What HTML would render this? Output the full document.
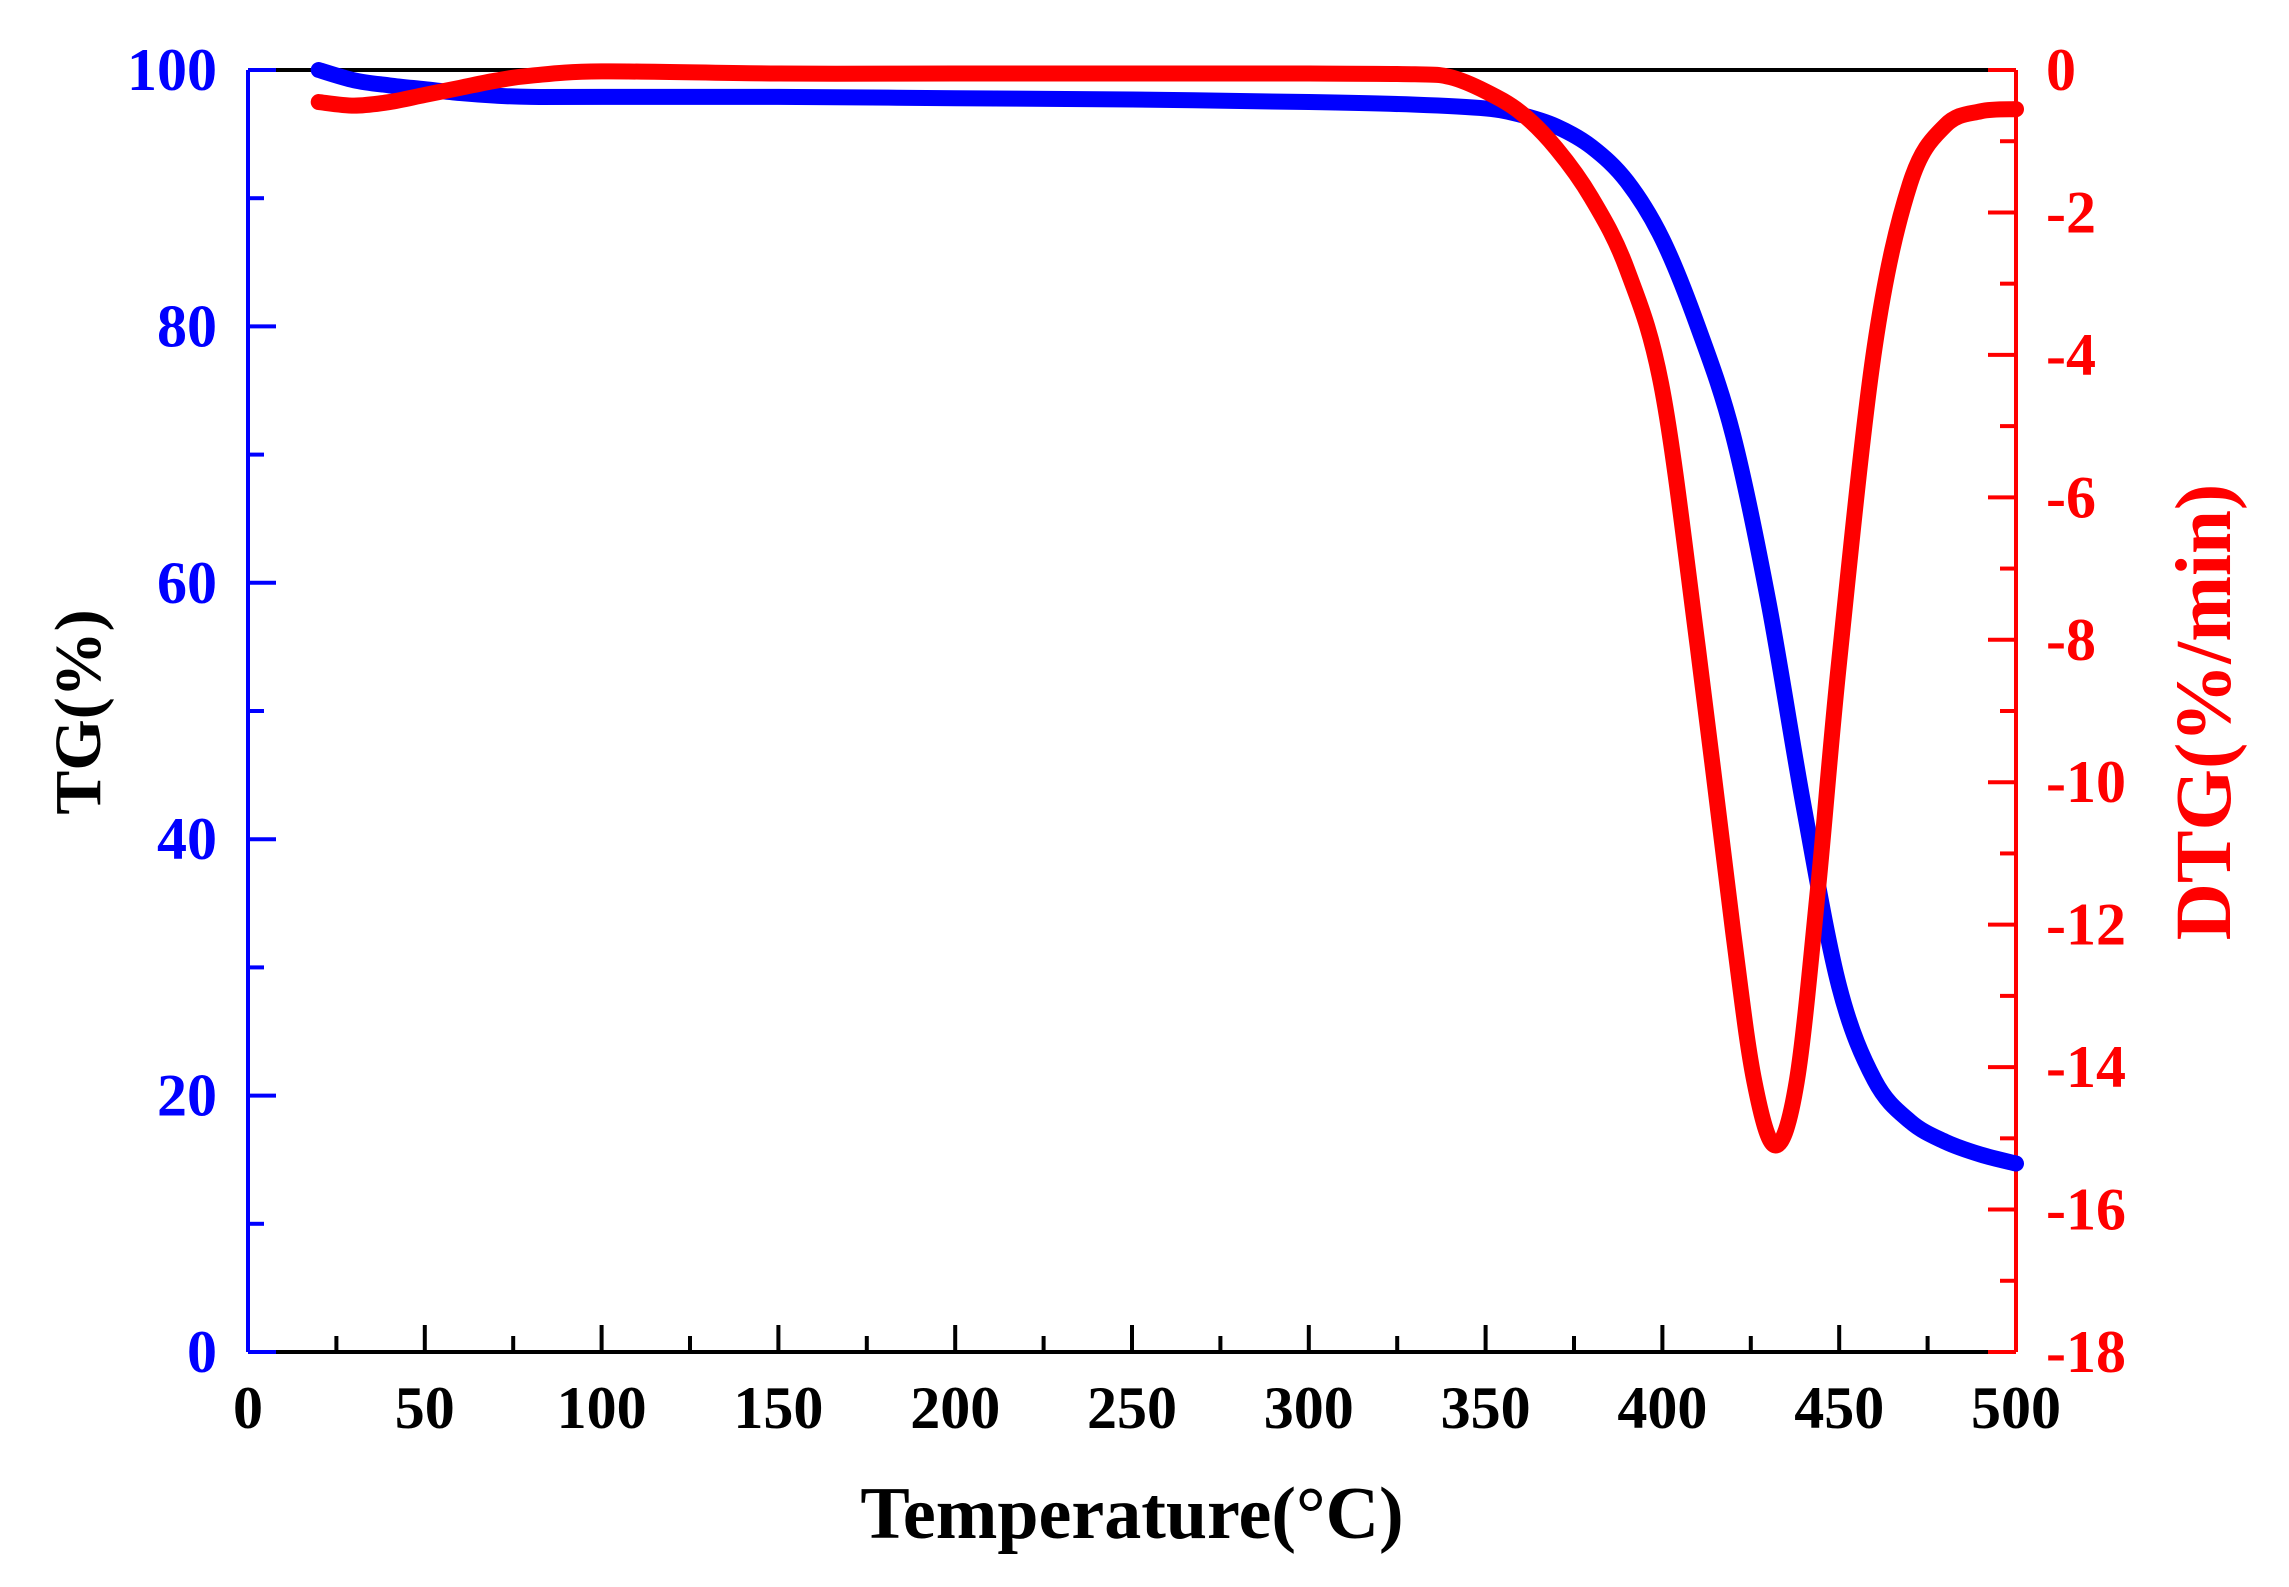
<!DOCTYPE html>
<html><head><meta charset="utf-8"><style>
body{margin:0;background:#fff;}
svg{display:block;font-family:"Liberation Serif",serif;font-weight:bold;}
</style></head><body>
<svg id="chart" width="2289" height="1587" viewBox="0 0 2289 1587" xmlns="http://www.w3.org/2000/svg"></svg>
<script>
const temps=[20,30,40,50,60,70,80,100,150,200,250,300,330,350,360,370,380,390,400,410,420,430,440,450,460,470,480,490,500];
const tgValues=[100,99.2,98.8,98.5,98.2,98,97.9,97.9,97.9,97.8,97.7,97.5,97.3,97,96.5,95.6,94.0,91.3,86.8,80,71.5,58.5,42.5,28.5,21.2,18,16.4,15.4,14.7];
const dtgTemps=[20,30,40,50,60,70,80,100,150,200,250,300,330,340,350,360,370,380,390,400,410,420,426,432,438,444,450,460,470,480,490,500];
const dtgValues=[-0.45,-0.5,-0.45,-0.35,-0.25,-0.15,-0.08,-0.02,-0.05,-0.05,-0.05,-0.05,-0.06,-0.1,-0.3,-0.6,-1.1,-1.8,-2.8,-4.5,-8.1,-12.1,-14.2,-15.1,-14.2,-11.5,-8.3,-3.9,-1.6,-0.78,-0.58,-0.55];
const xTicks=[0,50,100,150,200,250,300,350,400,450,500];
const tgTicks=[0,20,40,60,80,100];
const dtgTicks=[0,-2,-4,-6,-8,-10,-12,-14,-16,-18];

const L=248,R=2016,T=70,B=1352;
const sx=v=>L+(v/500)*(R-L);
const syL=v=>B-(v/100)*(B-T);
const syR=v=>T+(-v/18)*(B-T);
const svg=document.getElementById('chart');
const NS='http://www.w3.org/2000/svg';
function mk(tag,attrs,text){const e=document.createElementNS(NS,tag);for(const k in attrs)e.setAttribute(k,attrs[k]);if(text!==undefined)e.textContent=text;svg.appendChild(e);return e;}

let e=mk('line',{x1:L,y1:T,x2:R,y2:T,stroke:'#000','stroke-width':4});


e=mk('line',{x1:L,y1:B,x2:R,y2:B,stroke:'#000','stroke-width':4});


for(let v=0;v<=500;v+=25){const maj=v%50===0;
 e=mk('line',{x1:sx(v),y1:B,x2:sx(v),y2:B-(maj?27:16),stroke:'#000','stroke-width':4});
 
 }
xTicks.forEach(v=>{e=mk('text',{x:sx(v),y:1428,'text-anchor':'middle','font-size':60,fill:'#000'},String(v));
 
 });
e=mk('line',{x1:L,y1:T,x2:L,y2:B,stroke:'#00f','stroke-width':4});


for(let v=0;v<=100;v+=10){const maj=v%20===0;
 e=mk('line',{x1:L,y1:syL(v),x2:L+(maj?28:16),y2:syL(v),stroke:'#00f','stroke-width':4});
 
 }
tgTicks.forEach(v=>{e=mk('text',{x:217,y:syL(v)+20,'text-anchor':'end','font-size':60,fill:'#00f'},String(v));
 
 });
e=mk('line',{x1:R,y1:T,x2:R,y2:B,stroke:'#f00','stroke-width':4});


e=mk('line',{x1:R-28,y1:B,x2:R,y2:B,stroke:'#f00','stroke-width':4});


for(let v=0;v>=-18;v-=1){const maj=v%2===0;
 e=mk('line',{x1:R,y1:syR(v),x2:R-(maj?28:16),y2:syR(v),stroke:'#f00','stroke-width':4});
 
 }
dtgTicks.forEach(v=>{e=mk('text',{x:2046,y:syR(v)+20,'text-anchor':'start','font-size':60,fill:'#f00'},String(v));
 
 });
e=mk('text',{x:(L+R)/2,y:1538,'text-anchor':'middle','font-size':74,fill:'#000'},'Temperature(°C)');


e=mk('text',{x:0,y:0,'text-anchor':'middle','font-size':66,fill:'#000',transform:'translate(100,712) rotate(-90)'},'TG(%)');


e=mk('text',{x:0,y:0,'text-anchor':'middle','font-size':79,fill:'#f00',transform:'translate(2230,712) rotate(-90)'},'DTG(%/min)');


function path(xs,ys){const p=xs.map((x,i)=>[x,ys[i]]);let d='M'+p[0][0]+','+p[0][1];
 for(let i=0;i<p.length-1;i++){const p0=p[i-1]||p[i],p1=p[i],p2=p[i+1],p3=p[i+2]||p2;
  const c1=[p1[0]+(p2[0]-p0[0])/6,p1[1]+(p2[1]-p0[1])/6],c2=[p2[0]-(p3[0]-p1[0])/6,p2[1]-(p3[1]-p1[1])/6];
  d+=' C'+c1+' '+c2+' '+p2;}return d;}
e=mk('path',{d:path(temps.map(sx),tgValues.map(syL)),fill:'none',stroke:'#00f','stroke-width':16,'stroke-linecap':'round','stroke-linejoin':'round'});


e=mk('path',{d:path(dtgTemps.map(sx),dtgValues.map(syR)),fill:'none',stroke:'#f00','stroke-width':16,'stroke-linecap':'round','stroke-linejoin':'round'});


</script>
</body></html>
